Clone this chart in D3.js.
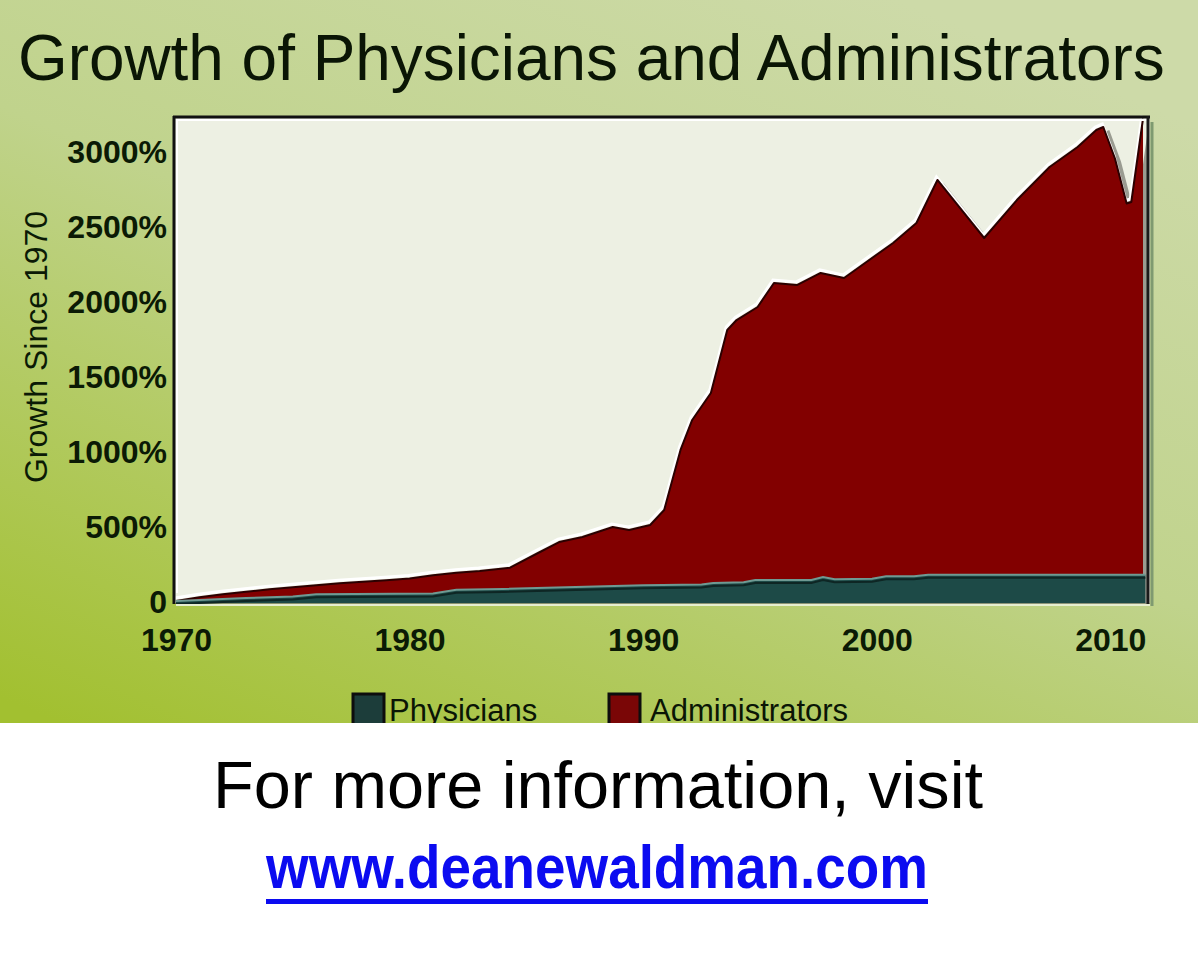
<!DOCTYPE html>
<html>
<head>
<meta charset="utf-8">
<script src="https://cdn.jsdelivr.net/npm/d3@7"></script>
<style>
  html, body { margin: 0; padding: 0; background: #ffffff; }
  svg { display: block; }
  text { font-family: "Liberation Sans", Arial, Helvetica, sans-serif; }
</style>
</head>
<body>
<svg id="chart" width="1198" height="960"></svg>
<script>
// ---- Data ----
const adminYears = [1970, 1971, 1972, 1973, 1974, 1975, 1976, 1977, 1978, 1979, 1980, 1981, 1982, 1983,
  1984.3, 1985.5, 1986.4, 1987.4, 1988.7, 1989.4, 1990.3, 1990.9, 1991.6, 1992.1, 1992.9, 1993.6, 1994.0,
  1994.9, 1995.6, 1996.6, 1997.6, 1998.6, 1999.2, 2000.7, 2001.7, 2002.6, 2003.4, 2004.6, 2006.0, 2007.4,
  2008.6, 2009.4, 2009.7, 2010.2, 2010.7, 2010.9, 2011.4];
const adminValues = [0, 25, 45, 62, 78, 92, 105, 118, 128, 138, 150, 172, 188, 200,
  222, 320, 393, 427, 493, 473, 507, 607, 1007, 1207, 1387, 1807, 1873,
  1960, 2120, 2107, 2187, 2153, 2220, 2387, 2520, 2807, 2653, 2420, 2673, 2893,
  3027, 3140, 3160, 2950, 2650, 2660, 3215];

const physYears = [1970, 1973, 1975, 1976, 1981, 1982, 1984, 1990, 1992.5, 1993, 1994.3, 1994.8, 1997.2,
  1997.7, 1998.2, 1999.8, 2000.4, 2001.6, 2002.2, 2011.5];
const physValues = [0, 20, 30, 45, 50, 75, 80, 105, 110, 120, 125, 140, 140,
  160, 145, 148, 165, 165, 175, 175];

const yTicks = [0, 500, 1000, 1500, 2000, 2500, 3000];
const xTicks = [1970, 1980, 1990, 2000, 2010];
const seriesNames = ["Physicians", "Administrators"];
const titleText = "Growth of Physicians and Administrators";
const yTitle = "Growth Since 1970";
const footerText = "For more information, visit";
const linkText = "www.deanewaldman.com";

// ---- Setup ----
const svg = d3.select("#chart");
const W = 1198, H = 960, greenH = 723;

const defs = svg.append("defs");
const bg = defs.append("linearGradient").attr("id", "bgGrad")
  .attr("x1", "0.75").attr("y1", "0").attr("x2", "0.05").attr("y2", "1");
bg.append("stop").attr("offset", "0").attr("stop-color", "#cddaa8");
bg.append("stop").attr("offset", "0.45").attr("stop-color", "#c0d38c");
bg.append("stop").attr("offset", "1").attr("stop-color", "#a2c030");

svg.append("rect").attr("x", 0).attr("y", 0).attr("width", W).attr("height", H).attr("fill", "#ffffff");
svg.append("rect").attr("x", 0).attr("y", 0).attr("width", W).attr("height", greenH).attr("fill", "url(#bgGrad)");

const x = d3.scaleLinear().domain([1970, 2011.7]).range([176, 1150]);
const y = d3.scaleLinear().domain([0, 3220]).range([601, 118]);

const plotL = x(1970), plotR = x(2011.7), plotT = y(3220), plotB = y(0);

// plot background
svg.append("rect").attr("x", plotL - 1).attr("y", plotT).attr("width", plotR - plotL + 1)
  .attr("height", plotB - plotT + 2).attr("fill", "#edf0e3");

const admin = adminYears.map((d, i) => ({ x: d, v: adminValues[i] }));
const phys = physYears.map((d, i) => ({ x: d, v: physValues[i] }));

const area = d3.area().x(d => x(d.x)).y0(y(0) + 2).y1(d => y(d.v));
const line = d3.line().x(d => x(d.x)).y(d => y(d.v));

const g = svg.append("g");
// shadow
g.append("path").datum(admin).attr("d", area).attr("fill", "#7d7f76").attr("opacity", 0.75)
  .attr("transform", "translate(6,3)");
// highlight
g.append("path").datum(admin).attr("d", line).attr("fill", "none").attr("stroke", "#ffffff")
  .attr("stroke-width", 3).attr("transform", "translate(-1,-3)");
// admin area
g.append("path").datum(admin).attr("d", area).attr("fill", "#820000");
g.append("path").datum(admin).attr("d", line).attr("fill", "none").attr("stroke", "#2b0000")
  .attr("stroke-width", 2).attr("stroke-linejoin", "round");

// physicians
g.append("path").datum(phys).attr("d", area).attr("fill", "#1d4a47");
g.append("path").datum(phys).attr("d", line).attr("fill", "none").attr("stroke", "#6f9a93")
  .attr("stroke-width", 2);
g.append("path").datum(phys).attr("d", line).attr("fill", "none").attr("stroke", "#0e2624")
  .attr("stroke-width", 2).attr("transform", "translate(0,3)");

// frame
svg.append("line").attr("x1", plotL - 3).attr("x2", plotR).attr("y1", plotT - 1).attr("y2", plotT - 1)
  .attr("stroke", "#111").attr("stroke-width", 3);
svg.append("line").attr("x1", plotL).attr("x2", plotR - 2).attr("y1", plotT + 2).attr("y2", plotT + 2)
  .attr("stroke", "#ffffff").attr("stroke-width", 2);
svg.append("line").attr("x1", plotL - 2).attr("x2", plotL - 2).attr("y1", plotT - 2).attr("y2", plotB + 3)
  .attr("stroke", "#111").attr("stroke-width", 3);
svg.append("line").attr("x1", plotL + 1).attr("x2", plotL + 1).attr("y1", plotT + 1).attr("y2", plotB - 8)
  .attr("stroke", "#ffffff").attr("stroke-width", 2);
svg.append("line").attr("x1", plotR - 2).attr("x2", plotR - 2).attr("y1", plotT - 2).attr("y2", plotB + 3)
  .attr("stroke", "#1a1a1a").attr("stroke-width", 3);
svg.append("line").attr("x1", plotR + 2).attr("x2", plotR + 2).attr("y1", plotT + 4).attr("y2", plotB + 5)
  .attr("stroke", "#7f9a70").attr("stroke-width", 3);
svg.append("line").attr("x1", plotL).attr("x2", plotR).attr("y1", plotB + 4).attr("y2", plotB + 4)
  .attr("stroke", "#e6eed0").attr("stroke-width", 2);

// y axis
const yAxis = svg.append("g").attr("transform", `translate(${plotL - 9},0)`)
  .call(d3.axisLeft(y).tickValues(yTicks).tickSize(0).tickPadding(0)
    .tickFormat(d => d === 0 ? "0" : d + "%"));
yAxis.select(".domain").remove();
yAxis.selectAll("text").attr("font-size", 32).attr("font-weight", "bold").attr("fill", "#0b1a05")
  .attr("font-family", '"Liberation Sans", Arial, sans-serif').attr("dy", "0.36em");

// x axis
const xAxis = svg.append("g").attr("transform", `translate(0,${plotB + 27})`)
  .call(d3.axisBottom(x).tickValues(xTicks).tickSize(0).tickPadding(0).tickFormat(d3.format("d")));
xAxis.select(".domain").remove();
xAxis.selectAll("text").attr("font-size", 32).attr("font-weight", "bold").attr("fill", "#0b1a05")
  .attr("font-family", '"Liberation Sans", Arial, sans-serif').attr("dy", "0.71em");

// y title
svg.append("text").attr("transform", "translate(47,347) rotate(-90)").attr("text-anchor", "middle")
  .attr("font-size", 32).attr("fill", "#0b1a05").text(yTitle);

// title
const t = svg.append("text").attr("x", 18).attr("y", 80).attr("font-size", 63).attr("fill", "#0a1505")
  .text(titleText);
const tw = t.node().getComputedTextLength();
t.attr("font-size", 63 * 1147 / tw);

// legend
const legendItems = [
  { name: seriesNames[0], color: "#1c3d3a", sx: 352, tx: 389 },
  { name: seriesNames[1], color: "#7a0606", sx: 608, tx: 650 }
];
const lg = svg.append("g");
legendItems.forEach(it => {
  lg.append("rect").attr("x", it.sx + 1).attr("y", 694).attr("width", 31).attr("height", 34)
    .attr("fill", it.color).attr("stroke", "#0d0d0d").attr("stroke-width", 3);
  lg.append("text").attr("x", it.tx).attr("y", 721).attr("font-size", 31).attr("fill", "#0a1505")
    .text(it.name);
});

// white footer area (covers legend bottom)
svg.append("rect").attr("x", 0).attr("y", greenH).attr("width", W).attr("height", H - greenH).attr("fill", "#ffffff");

const f = svg.append("text").attr("x", 598).attr("y", 808).attr("text-anchor", "middle")
  .attr("font-size", 66).attr("fill", "#000").text(footerText);
const fw = f.node().getComputedTextLength();
f.attr("font-size", 66 * 770 / fw);

const l = svg.append("text").attr("x", 266).attr("y", 888)
  .attr("font-size", 62).attr("font-weight", "bold").attr("fill", "#0b0bf0")
  .attr("textLength", 662).attr("lengthAdjust", "spacingAndGlyphs").text(linkText);
svg.append("rect").attr("x", 266).attr("y", 899).attr("width", 662).attr("height", 5).attr("fill", "#0b0bf0");
</script>
</body>
</html>
